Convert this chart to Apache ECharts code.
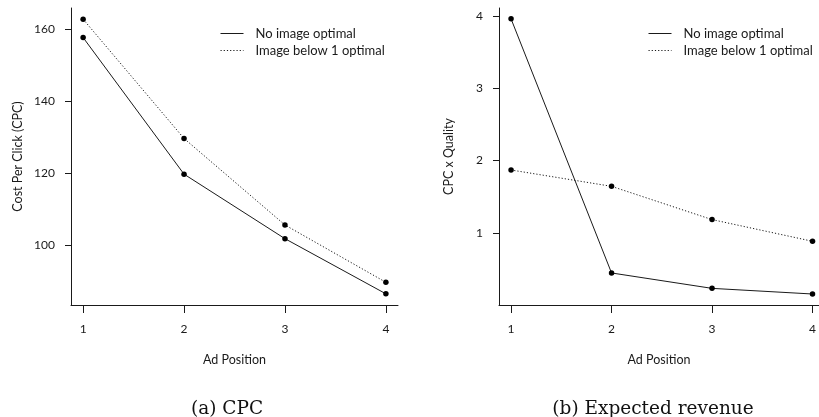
<!DOCTYPE html>
<html>
<head>
<meta charset="utf-8">
<script src="https://cdn.jsdelivr.net/npm/echarts@6/dist/echarts.min.js"></script>
<style>html,body{margin:0;padding:0;background:#fff;}#c{width:819px;height:417px;}</style>
</head>
<body>
<div id="c"></div>
<script>
const positions = [1, 2, 3, 4];
const cpcNoImage = [157.7, 119.8, 101.9, 86.6];
const cpcImageBelow = [162.8, 129.7, 105.7, 89.8];
const revNoImage = [3.96, 0.446, 0.233, 0.155];
const revImageBelow = [1.87, 1.644, 1.184, 0.884];
const xTicks = [1, 2, 3, 4];
const cpcTicks = [100, 120, 140, 160];
const revTicks = [1, 2, 3, 4];
const seriesNames = ['No image optimal', 'Image below 1 optimal'];

const FONT = 'Lato';
const INK = '#1a1a1a';

function pairs(xs, ys) { return xs.map((x, i) => [x, ys[i]]); }

function xAxisDef(gi, max) {
  return {
    type: 'value', gridIndex: gi, min: 0.88, max: max,
    name: 'Ad Position', nameLocation: 'middle', nameGap: 48,
    nameTextStyle: { fontFamily: FONT, fontSize: 12.5, color: INK },
    axisLine: { show: true, lineStyle: { color: INK, width: 1 } },
    axisTick: { show: true, length: 8, customValues: xTicks, lineStyle: { color: INK } },
    axisLabel: { show: true, customValues: xTicks, margin: 18, fontFamily: FONT, fontSize: 12, color: INK },
    splitLine: { show: false }
  };
}
function yAxisDef(gi, min, max, ticks, name, gap) {
  return {
    type: 'value', gridIndex: gi, min: min, max: max,
    name: name, nameLocation: 'middle', nameGap: gap, nameRotate: 90,
    nameTextStyle: { fontFamily: FONT, fontSize: 12.5, color: INK },
    axisLine: { show: true, lineStyle: { color: INK, width: 1 } },
    axisTick: { show: true, length: 6, customValues: ticks, lineStyle: { color: INK } },
    axisLabel: { show: true, customValues: ticks, margin: 16, fontFamily: FONT, fontSize: 12, color: INK },
    splitLine: { show: false }
  };
}
function lineSeries(name, gi, data, dotted) {
  return {
    name: name, type: 'line', xAxisIndex: gi, yAxisIndex: gi,
    data: data, symbol: 'circle', symbolSize: 5.5, showSymbol: true,
    itemStyle: { color: '#000' },
    lineStyle: { color: INK, width: 1, type: dotted ? [1.2, 2] : 'solid' },
    animation: false, silent: true
  };
}
function legendDef(left) {
  return {
    left: left, top: 27, orient: 'vertical', padding: 0,
    itemWidth: 23, itemHeight: 12, itemGap: 4,
    itemStyle: { color: 'rgba(0,0,0,0)', borderWidth: 0 },
    lineStyle: { width: 1 },
    textStyle: { fontFamily: FONT, fontSize: 13, color: INK, padding: [0, 0, 0, 7] },
    data: seriesNames, selectedMode: false
  };
}

const chart = echarts.init(document.getElementById('c'));
chart.setOption({
  backgroundColor: '#fff',
  animation: false,
  title: [
    { text: '(a) CPC', left: 222, top: 395, textAlign: 'center',
      textStyle: { fontFamily: 'DejaVu Serif', fontSize: 18.5, fontWeight: 'normal', color: '#111' } },
    { text: '(b) Expected revenue', left: 648, top: 395, textAlign: 'center',
      textStyle: { fontFamily: 'DejaVu Serif', fontSize: 18.5, fontWeight: 'normal', color: '#111' } }
  ],
  legend: [legendDef(220), legendDef(648)],
  grid: [
    { left: 71, top: 8, width: 327, height: 297 },
    { left: 499, top: 8, width: 320, height: 297 }
  ],
  xAxis: [xAxisDef(0, 4.12), xAxisDef(1, 4.064)],
  yAxis: [
    yAxisDef(0, 83.5, 165.9, cpcTicks, 'Cost Per Click (CPC)', 47),
    yAxisDef(1, 0.003, 4.11, revTicks, 'CPC x Quality', 44)
  ],
  series: [
    lineSeries(seriesNames[0], 0, pairs(positions, cpcNoImage), false),
    lineSeries(seriesNames[1], 0, pairs(positions, cpcImageBelow), true),
    lineSeries(seriesNames[0], 1, pairs(positions, revNoImage), false),
    lineSeries(seriesNames[1], 1, pairs(positions, revImageBelow), true)
  ]
});
</script>
</body>
</html>
